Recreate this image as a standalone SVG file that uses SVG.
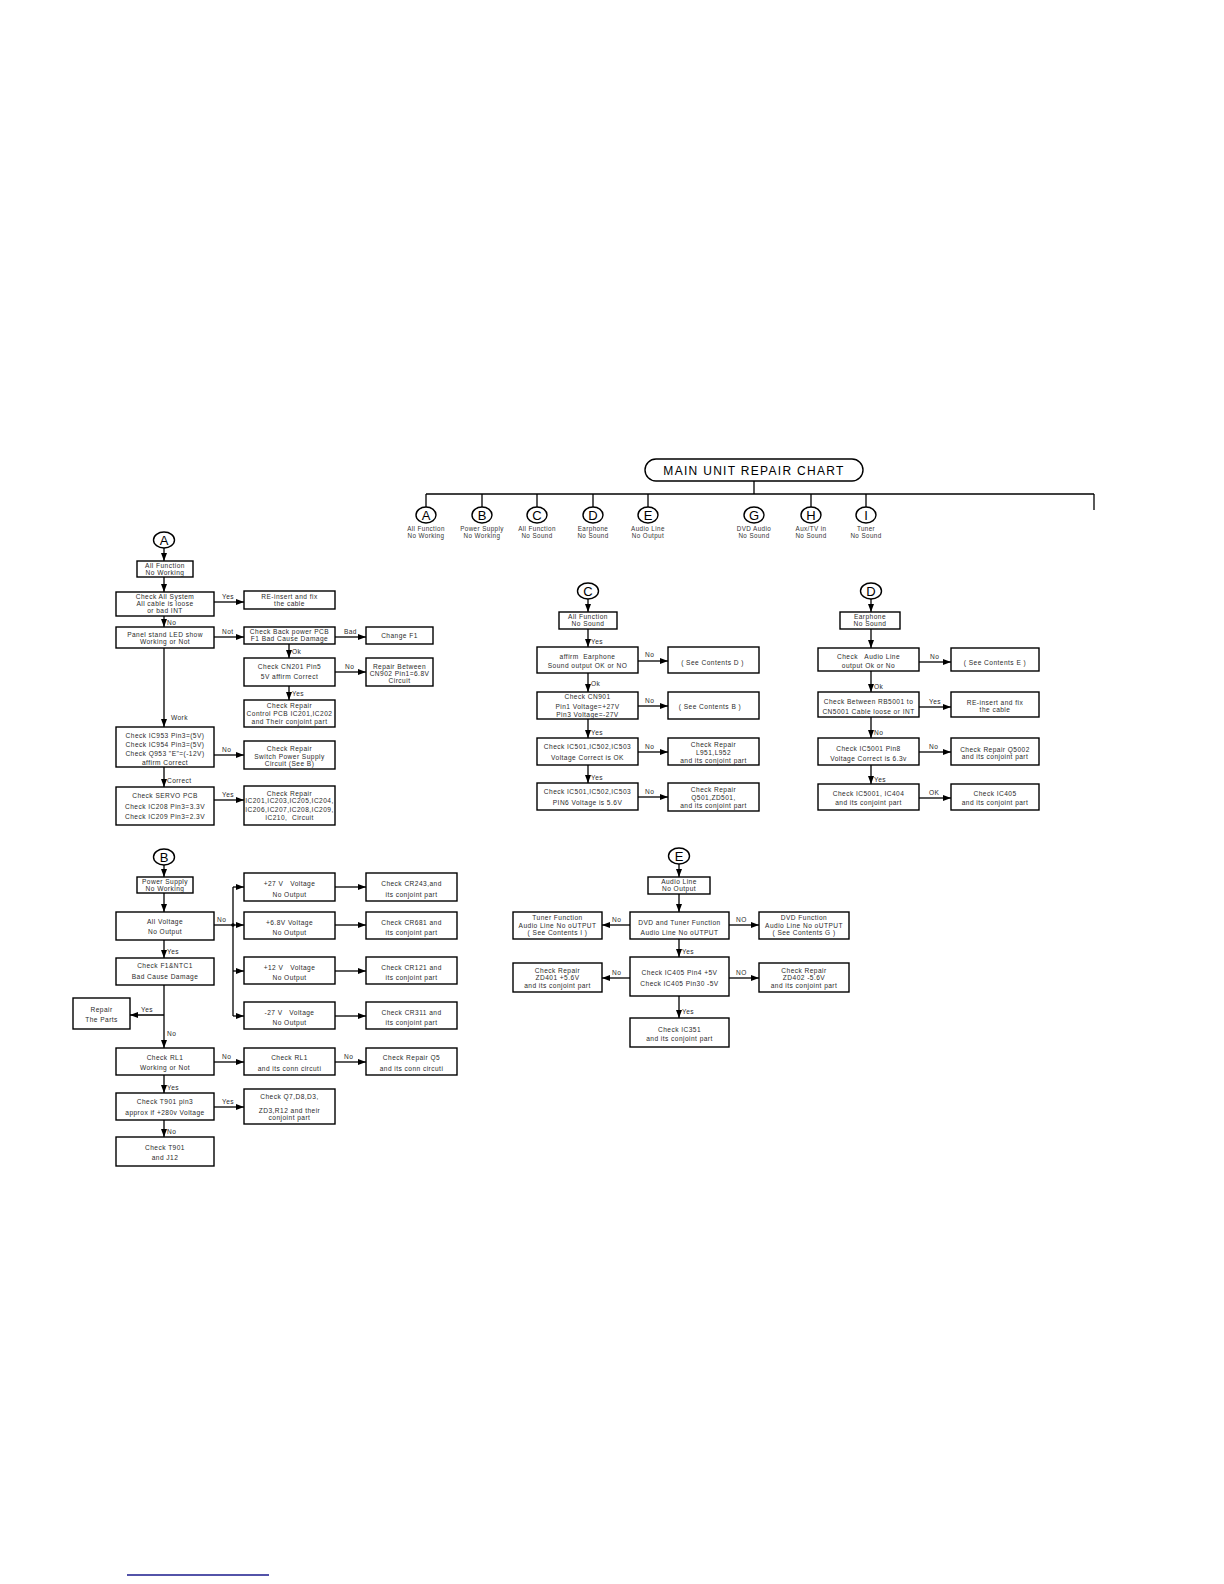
<svg xmlns="http://www.w3.org/2000/svg" width="1224" height="1584" viewBox="0 0 1224 1584">
<style>
.b{fill:#fff;stroke:#000;stroke-width:1.4}
.t{font-family:"Liberation Sans",Arial,sans-serif;font-size:6.6px;fill:#2a2a2a;text-anchor:middle;letter-spacing:0.45px;white-space:pre}
.l{font-family:"Liberation Sans",Arial,sans-serif;font-size:6.6px;fill:#2a2a2a;text-anchor:start;letter-spacing:0.4px}
.h{font-family:"Liberation Sans",Arial,sans-serif;font-size:6.3px;fill:#333;text-anchor:middle;letter-spacing:0.4px}
.ct{font-family:"Liberation Sans",Arial,sans-serif;font-size:13px;fill:#000;text-anchor:middle}
.c{fill:none;stroke:#000;stroke-width:1.3}
.a{fill:none;stroke:#000;stroke-width:1.3;marker-end:url(#ah)}
.e{fill:#fff;stroke:#000;stroke-width:1.4}
</style>
<defs>
<marker id="ah" markerUnits="userSpaceOnUse" markerWidth="8" markerHeight="6" refX="8" refY="3" orient="auto"><path d="M0,0 L8,3 L0,6 z" fill="#000"/></marker>
</defs>
<rect width="1224" height="1584" fill="#fff"/>

<!-- Header -->
<g id="header">
<rect x="645" y="459" width="218" height="22" rx="11" class="b"/>
<text x="754" y="474.5" style="font-family:'Liberation Sans',Arial,sans-serif;font-size:12px;letter-spacing:1.3px;text-anchor:middle;fill:#000">MAIN UNIT REPAIR CHART</text>
</g>
<g id="h-connectors">
<line x1="754" y1="481" x2="754" y2="494" class="c"/>
<line x1="426" y1="494" x2="1094" y2="494" class="c"/>
<line x1="1094" y1="494" x2="1094" y2="510" class="c"/>
<line x1="426" y1="494" x2="426" y2="507" class="c"/>
<line x1="482" y1="494" x2="482" y2="507" class="c"/>
<line x1="537" y1="494" x2="537" y2="507" class="c"/>
<line x1="593" y1="494" x2="593" y2="507" class="c"/>
<line x1="648" y1="494" x2="648" y2="507" class="c"/>
<line x1="811" y1="494" x2="811" y2="507" class="c"/>
<line x1="866" y1="494" x2="866" y2="507" class="c"/>
</g>
<g id="hA"><ellipse cx="426" cy="515" rx="10" ry="8" class="e"/><text x="426" y="520" class="ct">A</text><text x="426" y="531" class="h">All Function</text><text x="426" y="538" class="h">No Working</text></g>
<g id="hB"><ellipse cx="482" cy="515" rx="10" ry="8" class="e"/><text x="482" y="520" class="ct">B</text><text x="482" y="531" class="h">Power Supply</text><text x="482" y="538" class="h">No Working</text></g>
<g id="hC"><ellipse cx="537" cy="515" rx="10" ry="8" class="e"/><text x="537" y="520" class="ct">C</text><text x="537" y="531" class="h">All Function</text><text x="537" y="538" class="h">No Sound</text></g>
<g id="hD"><ellipse cx="593" cy="515" rx="10" ry="8" class="e"/><text x="593" y="520" class="ct">D</text><text x="593" y="531" class="h">Earphone</text><text x="593" y="538" class="h">No Sound</text></g>
<g id="hE"><ellipse cx="648" cy="515" rx="10" ry="8" class="e"/><text x="648" y="520" class="ct">E</text><text x="648" y="531" class="h">Audio Line</text><text x="648" y="538" class="h">No Output</text></g>
<g id="hG"><ellipse cx="754" cy="515" rx="10" ry="8" class="e"/><text x="754" y="520" class="ct">G</text><text x="754" y="531" class="h">DVD Audio</text><text x="754" y="538" class="h">No Sound</text></g>
<g id="hH"><ellipse cx="811" cy="515" rx="10" ry="8" class="e"/><text x="811" y="520" class="ct">H</text><text x="811" y="531" class="h">Aux/TV in</text><text x="811" y="538" class="h">No Sound</text></g>
<g id="hI"><ellipse cx="866" cy="515" rx="10" ry="8" class="e"/><text x="866" y="520" class="ct">I</text><text x="866" y="531" class="h">Tuner</text><text x="866" y="538" class="h">No Sound</text></g>

<!-- Section A -->
<g id="nA"><ellipse cx="164" cy="540" rx="10.5" ry="8" class="e"/><text x="164" y="545" class="ct">A</text></g>
<g id="A1"><rect x="137" y="561" width="56" height="16" class="b"/><text x="165" y="568" class="t">All Function</text><text x="165" y="574.8" class="t">No Working</text></g>
<g id="A2"><rect x="116" y="592" width="98" height="24" class="b"/><text x="165" y="599.3" class="t">Check All System</text><text x="165" y="606.3" class="t">All cable is loose</text><text x="165" y="613" class="t">or bad INT</text></g>
<g id="A3"><rect x="244" y="591" width="91" height="18" class="b"/><text x="289.5" y="599" class="t">RE-insert and fix</text><text x="289.5" y="606" class="t">the cable</text></g>
<g id="A4"><rect x="116" y="627" width="98" height="21" class="b"/><text x="165" y="637" class="t">Panel stand LED show</text><text x="165" y="644.3" class="t">Working or Not</text></g>
<g id="A5"><rect x="244" y="627" width="91" height="17" class="b"/><text x="289.5" y="634.3" class="t">Check Back power PCB</text><text x="289.5" y="641" class="t">F1 Bad Cause Damage</text></g>
<g id="A6"><rect x="366" y="627" width="67" height="17" class="b"/><text x="399.5" y="637.5" class="t">Change F1</text></g>
<g id="A7"><rect x="244" y="658" width="91" height="28" class="b"/><text x="289.5" y="668.5" class="t">Check CN201 Pin5</text><text x="289.5" y="678.5" class="t">5V affirm Correct</text></g>
<g id="A8"><rect x="366" y="658" width="67" height="28" class="b"/><text x="399.5" y="668.5" class="t">Repair Between</text><text x="399.5" y="675.5" class="t">CN902 Pin1=6.8V</text><text x="399.5" y="682.5" class="t">Circuit</text></g>
<g id="A9"><rect x="244" y="700" width="91" height="27" class="b"/><text x="289.5" y="708.3" class="t">Check Repair</text><text x="289.5" y="716.3" class="t">Control PCB IC201,IC202</text><text x="289.5" y="724.3" class="t">and Their conjoint part</text></g>
<g id="A10"><rect x="116" y="727" width="98" height="40" class="b"/><text x="165" y="737.5" class="t">Check IC953 Pin3=(5V)</text><text x="165" y="746.5" class="t">Check IC954 Pin3=(5V)</text><text x="165" y="755.5" class="t">Check Q953 "E"=(-12V)</text><text x="165" y="764.5" class="t">affirm Correct</text></g>
<g id="A11"><rect x="244" y="741" width="91" height="28" class="b"/><text x="289.5" y="750.5" class="t">Check Repair</text><text x="289.5" y="758.5" class="t">Switch Power Supply</text><text x="289.5" y="766" class="t">Circuit (See B)</text></g>
<g id="A12"><rect x="116" y="787" width="98" height="38" class="b"/><text x="165" y="797.5" class="t">Check SERVO PCB</text><text x="165" y="808.5" class="t">Check IC208 Pin3=3.3V</text><text x="165" y="818.5" class="t">Check IC209 Pin3=2.3V</text></g>
<g id="A13"><rect x="244" y="786" width="91" height="39" class="b"/><text x="289.5" y="795.5" class="t">Check Repair</text><text x="289.5" y="802.5" class="t">IC201,IC203,IC205,IC204,</text><text x="289.5" y="811.5" class="t">IC206,IC207,IC208,IC209,</text><text x="289.5" y="820" class="t">IC210,  Circuit</text></g>

<!-- Section B -->
<g id="nB"><ellipse cx="164" cy="857" rx="10.5" ry="8" class="e"/><text x="164" y="862" class="ct">B</text></g>
<g id="B1"><rect x="137" y="877" width="56" height="16" class="b"/><text x="165" y="884.3" class="t">Power Supply</text><text x="165" y="890.8" class="t">No Working</text></g>
<g id="B2"><rect x="116" y="912" width="98" height="28" class="b"/><text x="165" y="923.5" class="t">All Voltage</text><text x="165" y="933.5" class="t">No Output</text></g>
<g id="B3"><rect x="244" y="873" width="91" height="28" class="b"/><text x="289.5" y="885.5" class="t">+27 V   Voltage</text><text x="289.5" y="896.5" class="t">No Output</text></g>
<g id="B4"><rect x="244" y="912" width="91" height="27" class="b"/><text x="289.5" y="924.5" class="t">+6.8V Voltage</text><text x="289.5" y="934.5" class="t">No Output</text></g>
<g id="B5"><rect x="244" y="957" width="91" height="27" class="b"/><text x="289.5" y="969.5" class="t">+12 V   Voltage</text><text x="289.5" y="979.5" class="t">No Output</text></g>
<g id="B6"><rect x="244" y="1002" width="91" height="27" class="b"/><text x="289.5" y="1014.5" class="t">-27 V   Voltage</text><text x="289.5" y="1024.5" class="t">No Output</text></g>
<g id="B7"><rect x="366" y="873" width="91" height="28" class="b"/><text x="411.5" y="885.5" class="t">Check CR243,and</text><text x="411.5" y="896.5" class="t">its conjoint part</text></g>
<g id="B8"><rect x="366" y="912" width="91" height="27" class="b"/><text x="411.5" y="924.5" class="t">Check CR681 and</text><text x="411.5" y="934.5" class="t">its conjoint part</text></g>
<g id="B9"><rect x="366" y="957" width="91" height="27" class="b"/><text x="411.5" y="969.5" class="t">Check CR121 and</text><text x="411.5" y="979.5" class="t">its conjoint part</text></g>
<g id="B10"><rect x="366" y="1002" width="91" height="27" class="b"/><text x="411.5" y="1014.5" class="t">Check CR311 and</text><text x="411.5" y="1024.5" class="t">its conjoint part</text></g>
<g id="B11"><rect x="116" y="958" width="98" height="27" class="b"/><text x="165" y="967.5" class="t">Check F1&amp;NTC1</text><text x="165" y="978.5" class="t">Bad Cause Damage</text></g>
<g id="B12"><rect x="73" y="998" width="57" height="31" class="b"/><text x="101.5" y="1011.5" class="t">Repair</text><text x="101.5" y="1021.5" class="t">The Parts</text></g>
<g id="B13"><rect x="116" y="1048" width="98" height="27" class="b"/><text x="165" y="1059.5" class="t">Check RL1</text><text x="165" y="1069.5" class="t">Working or Not</text></g>
<g id="B14"><rect x="244" y="1048" width="91" height="27" class="b"/><text x="289.5" y="1059.5" class="t">Check RL1</text><text x="289.5" y="1070.5" class="t">and its conn circuti</text></g>
<g id="B15"><rect x="366" y="1048" width="91" height="27" class="b"/><text x="411.5" y="1059.5" class="t">Check Repair Q5</text><text x="411.5" y="1070.5" class="t">and its conn circuti</text></g>
<g id="B16"><rect x="116" y="1093" width="98" height="27" class="b"/><text x="165" y="1103.5" class="t">Check T901 pin3</text><text x="165" y="1114.5" class="t">approx if +280v Voltage</text></g>
<g id="B17"><rect x="244" y="1089" width="91" height="35" class="b"/><text x="289.5" y="1098.5" class="t">Check Q7,D8,D3,</text><text x="289.5" y="1112.5" class="t">ZD3,R12 and their</text><text x="289.5" y="1119.5" class="t">conjoint part</text></g>
<g id="B18"><rect x="116" y="1137" width="98" height="29" class="b"/><text x="165" y="1149.5" class="t">Check T901</text><text x="165" y="1159.5" class="t">and J12</text></g>

<!-- Section C -->
<g id="nC"><ellipse cx="588" cy="591" rx="10.5" ry="8" class="e"/><text x="588" y="596" class="ct">C</text></g>
<g id="C1"><rect x="559" y="612" width="58" height="17" class="b"/><text x="588" y="619.3" class="t">All Function</text><text x="588" y="626.3" class="t">No Sound</text></g>
<g id="C2"><rect x="537" y="647" width="101" height="26" class="b"/><text x="587.5" y="658.5" class="t">affirm  Earphone</text><text x="587.5" y="668.3" class="t">Sound output OK or NO</text></g>
<g id="C3"><rect x="668" y="647" width="91" height="26" class="b"/><text x="712.5" y="664.5" class="t">( See Contents D )</text></g>
<g id="C4"><rect x="537" y="692" width="101" height="27" class="b"/><text x="587.5" y="699.3" class="t">Check CN901</text><text x="587.5" y="708.5" class="t">Pin1 Voltage=+27V</text><text x="587.5" y="716.8" class="t">Pin3 Voltage=-27V</text></g>
<g id="C5"><rect x="668" y="692" width="91" height="27" class="b"/><text x="710" y="708.8" class="t">( See Contents B )</text></g>
<g id="C6"><rect x="537" y="738" width="101" height="27" class="b"/><text x="587.5" y="748.8" class="t">Check IC501,IC502,IC503</text><text x="587.5" y="759.8" class="t">Voltage Correct is OK</text></g>
<g id="C7"><rect x="668" y="738" width="91" height="27" class="b"/><text x="713.5" y="746.5" class="t">Check Repair</text><text x="713.5" y="754.5" class="t">L951,L952</text><text x="713.5" y="762.5" class="t">and its conjoint part</text></g>
<g id="C8"><rect x="537" y="783" width="101" height="27" class="b"/><text x="587.5" y="793.5" class="t">Check IC501,IC502,IC503</text><text x="587.5" y="804.5" class="t">PIN6 Voltage is 5.6V</text></g>
<g id="C9"><rect x="668" y="783" width="91" height="28" class="b"/><text x="713.5" y="791.5" class="t">Check Repair</text><text x="713.5" y="800" class="t">Q501,ZD501,</text><text x="713.5" y="808" class="t">and its conjoint part</text></g>

<!-- Section D -->
<g id="nD"><ellipse cx="871" cy="591" rx="10.5" ry="8" class="e"/><text x="871" y="596" class="ct">D</text></g>
<g id="D1"><rect x="840" y="612" width="60" height="17" class="b"/><text x="870" y="619.3" class="t">Earphone</text><text x="870" y="626.3" class="t">No Sound</text></g>
<g id="D2"><rect x="818" y="648" width="101" height="23" class="b"/><text x="868.5" y="658.5" class="t">Check   Audio Line</text><text x="868.5" y="667.5" class="t">output Ok or No</text></g>
<g id="D3"><rect x="951" y="648" width="88" height="23" class="b"/><text x="995" y="664.5" class="t">( See Contents E )</text></g>
<g id="D4"><rect x="818" y="692" width="101" height="25" class="b"/><text x="868.5" y="704" class="t">Check Between RB5001 to</text><text x="868.5" y="714" class="t">CN5001 Cable loose or INT</text></g>
<g id="D5"><rect x="951" y="692" width="88" height="25" class="b"/><text x="995" y="704.5" class="t">RE-insert and fix</text><text x="995" y="712" class="t">the cable</text></g>
<g id="D6"><rect x="818" y="738" width="101" height="27" class="b"/><text x="868.5" y="750.5" class="t">Check IC5001 Pin8</text><text x="868.5" y="760.5" class="t">Voltage Correct is 6.3v</text></g>
<g id="D7"><rect x="951" y="738" width="88" height="27" class="b"/><text x="995" y="752" class="t">Check Repair Q5002</text><text x="995" y="759" class="t">and its conjoint part</text></g>
<g id="D8"><rect x="818" y="784" width="101" height="26" class="b"/><text x="868.5" y="796" class="t">Check IC5001, IC404</text><text x="868.5" y="804.5" class="t">and its conjoint part</text></g>
<g id="D9"><rect x="951" y="784" width="88" height="26" class="b"/><text x="995" y="796" class="t">Check IC405</text><text x="995" y="804.5" class="t">and its conjoint part</text></g>

<!-- Section E -->
<g id="nE"><ellipse cx="679" cy="856" rx="10.5" ry="8" class="e"/><text x="679" y="861" class="ct">E</text></g>
<g id="E1"><rect x="648" y="877" width="62" height="17" class="b"/><text x="679" y="884.3" class="t">Audio Line</text><text x="679" y="890.8" class="t">No Output</text></g>
<g id="E2"><rect x="630" y="912" width="99" height="27" class="b"/><text x="679.5" y="924.5" class="t">DVD and Tuner Function</text><text x="679.5" y="934.5" class="t">Audio Line No oUTPUT</text></g>
<g id="E3"><rect x="513" y="912" width="89" height="27" class="b"/><text x="557.5" y="920.3" class="t">Tuner Function</text><text x="557.5" y="927.5" class="t">Audio Line No oUTPUT</text><text x="557.5" y="935.3" class="t">( See Contents I )</text></g>
<g id="E4"><rect x="759" y="912" width="90" height="27" class="b"/><text x="804" y="920.3" class="t">DVD Function</text><text x="804" y="927.5" class="t">Audio Line No oUTPUT</text><text x="804" y="935.3" class="t">( See Contents G )</text></g>
<g id="E5"><rect x="630" y="957" width="99" height="39" class="b"/><text x="679.5" y="974.5" class="t">Check IC405 Pin4 +5V</text><text x="679.5" y="985.5" class="t">Check IC405 Pin30 -5V</text></g>
<g id="E6"><rect x="513" y="963" width="89" height="29" class="b"/><text x="557.5" y="972.5" class="t">Check Repair</text><text x="557.5" y="980" class="t">ZD401 +5.6V</text><text x="557.5" y="987.5" class="t">and its conjoint part</text></g>
<g id="E7"><rect x="759" y="963" width="90" height="29" class="b"/><text x="804" y="972.5" class="t">Check Repair</text><text x="804" y="980" class="t">ZD402 -5.6V</text><text x="804" y="987.5" class="t">and its conjoint part</text></g>
<g id="E8"><rect x="630" y="1018" width="99" height="29" class="b"/><text x="679.5" y="1031.5" class="t">Check IC351</text><text x="679.5" y="1040.5" class="t">and its conjoint part</text></g>

<!-- Connectors -->
<g id="connectors">
<line x1="164" y1="548" x2="164" y2="561" class="a"/>
<line x1="164" y1="577" x2="164" y2="592" class="a"/>
<line x1="214" y1="602" x2="244" y2="602" class="a"/>
<line x1="164" y1="616" x2="164" y2="627" class="a"/>
<line x1="214" y1="637" x2="244" y2="637" class="a"/>
<line x1="335" y1="637" x2="366" y2="637" class="a"/>
<line x1="289" y1="644" x2="289" y2="658" class="a"/>
<line x1="335" y1="672" x2="366" y2="672" class="a"/>
<line x1="289" y1="686" x2="289" y2="700" class="a"/>
<line x1="164" y1="648" x2="164" y2="727" class="a"/>
<line x1="214" y1="755" x2="244" y2="755" class="a"/>
<line x1="164" y1="767" x2="164" y2="787" class="a"/>
<line x1="214" y1="800" x2="244" y2="800" class="a"/>
<line x1="164" y1="865" x2="164" y2="877" class="a"/>
<line x1="164" y1="893" x2="164" y2="912" class="a"/>
<line x1="214" y1="925" x2="233" y2="925" class="c"/>
<circle cx="233" cy="925" r="1.8" fill="#000"/>
<line x1="233" y1="887" x2="233" y2="1016" class="c"/>
<line x1="233" y1="887" x2="244" y2="887" class="a"/>
<line x1="233" y1="925" x2="244" y2="925" class="a"/>
<line x1="233" y1="971" x2="244" y2="971" class="a"/>
<line x1="233" y1="1016" x2="244" y2="1016" class="a"/>
<line x1="335" y1="887" x2="366" y2="887" class="a"/>
<line x1="335" y1="925" x2="366" y2="925" class="a"/>
<line x1="335" y1="971" x2="366" y2="971" class="a"/>
<line x1="335" y1="1016" x2="366" y2="1016" class="a"/>
<line x1="164" y1="940" x2="164" y2="958" class="a"/>
<line x1="164" y1="985" x2="164" y2="1048" class="a"/>
<line x1="164" y1="1015" x2="130" y2="1015" class="a"/>
<line x1="214" y1="1062" x2="244" y2="1062" class="a"/>
<line x1="335" y1="1062" x2="366" y2="1062" class="a"/>
<line x1="164" y1="1075" x2="164" y2="1093" class="a"/>
<line x1="214" y1="1107" x2="244" y2="1107" class="a"/>
<line x1="164" y1="1120" x2="164" y2="1137" class="a"/>
<line x1="588" y1="599" x2="588" y2="612" class="a"/>
<line x1="588" y1="629" x2="588" y2="647" class="a"/>
<line x1="638" y1="661" x2="668" y2="661" class="a"/>
<line x1="588" y1="673" x2="588" y2="692" class="a"/>
<line x1="638" y1="706" x2="668" y2="706" class="a"/>
<line x1="588" y1="719" x2="588" y2="738" class="a"/>
<line x1="638" y1="752" x2="668" y2="752" class="a"/>
<line x1="588" y1="765" x2="588" y2="783" class="a"/>
<line x1="638" y1="797" x2="668" y2="797" class="a"/>
<line x1="871" y1="599" x2="871" y2="612" class="a"/>
<line x1="871" y1="629" x2="871" y2="648" class="a"/>
<line x1="919" y1="662" x2="951" y2="662" class="a"/>
<line x1="871" y1="671" x2="871" y2="692" class="a"/>
<line x1="919" y1="707" x2="951" y2="707" class="a"/>
<line x1="871" y1="717" x2="871" y2="738" class="a"/>
<line x1="919" y1="752" x2="951" y2="752" class="a"/>
<line x1="871" y1="765" x2="871" y2="784" class="a"/>
<line x1="919" y1="798" x2="951" y2="798" class="a"/>
<line x1="679" y1="864" x2="679" y2="877" class="a"/>
<line x1="679" y1="894" x2="679" y2="912" class="a"/>
<line x1="630" y1="925" x2="602" y2="925" class="a"/>
<line x1="729" y1="925" x2="759" y2="925" class="a"/>
<line x1="679" y1="939" x2="679" y2="957" class="a"/>
<line x1="630" y1="978" x2="602" y2="978" class="a"/>
<line x1="729" y1="978" x2="759" y2="978" class="a"/>
<line x1="679" y1="996" x2="679" y2="1018" class="a"/>
</g>

<g id="connector-labels">
<text x="222" y="599" class="l">Yes</text>
<text x="167" y="625" class="l">No</text>
<text x="222" y="634" class="l">Not</text>
<text x="344" y="634" class="l">Bad</text>
<text x="292" y="654" class="l">Ok</text>
<text x="345" y="669" class="l">No</text>
<text x="292" y="696" class="l">Yes</text>
<text x="171" y="720" class="l">Work</text>
<text x="222" y="752" class="l">No</text>
<text x="167" y="783" class="l">Correct</text>
<text x="222" y="797" class="l">Yes</text>
<text x="217" y="922" class="l">No</text>
<text x="167" y="954" class="l">Yes</text>
<text x="141" y="1012" class="l">Yes</text>
<text x="167" y="1036" class="l">No</text>
<text x="222" y="1059" class="l">No</text>
<text x="344" y="1059" class="l">No</text>
<text x="167" y="1090" class="l">Yes</text>
<text x="222" y="1104" class="l">Yes</text>
<text x="167" y="1134" class="l">No</text>
<text x="591" y="644" class="l">Yes</text>
<text x="645" y="657" class="l">No</text>
<text x="591" y="686" class="l">Ok</text>
<text x="645" y="703" class="l">No</text>
<text x="591" y="735" class="l">Yes</text>
<text x="645" y="749" class="l">No</text>
<text x="591" y="780" class="l">Yes</text>
<text x="645" y="794" class="l">No</text>
<text x="930" y="659" class="l">No</text>
<text x="874" y="689" class="l">Ok</text>
<text x="929" y="704" class="l">Yes</text>
<text x="874" y="735" class="l">No</text>
<text x="929" y="749" class="l">No</text>
<text x="874" y="782" class="l">Yes</text>
<text x="929" y="795" class="l">OK</text>
<text x="612" y="922" class="l">No</text>
<text x="736" y="922" class="l">NO</text>
<text x="682" y="954" class="l">Yes</text>
<text x="612" y="975" class="l">No</text>
<text x="736" y="975" class="l">NO</text>
<text x="682" y="1014" class="l">Yes</text>
</g>

<line x1="127" y1="1575" x2="269" y2="1575" stroke="#1a1a8c" stroke-width="1.5"/>
</svg>
